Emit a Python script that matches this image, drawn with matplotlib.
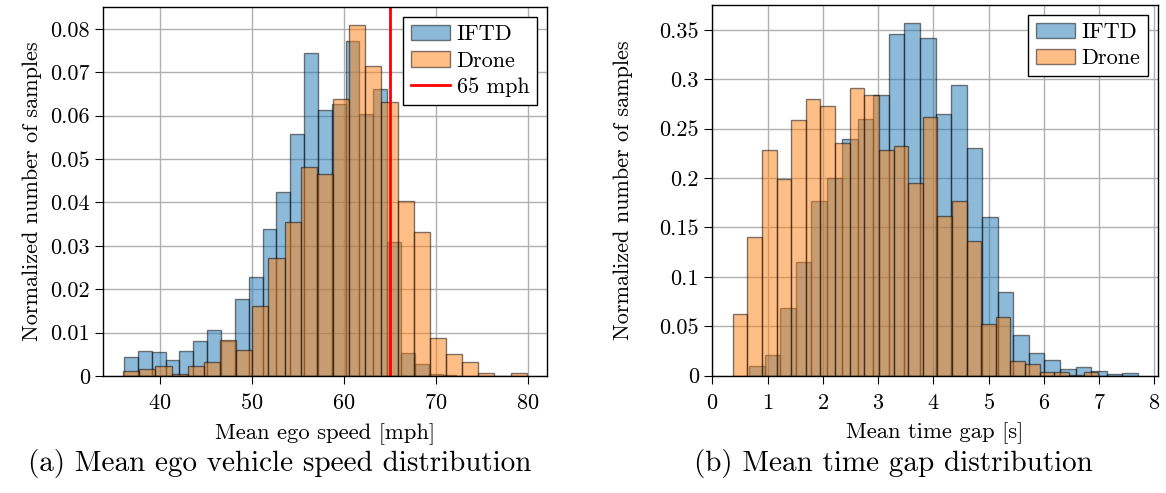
import numpy as np
import matplotlib
matplotlib.use('Agg')
import matplotlib.pyplot as plt
from matplotlib.ticker import FuncFormatter

# mean ego speed [mph], normalized histogram heights
speed_iftd_range = (36.1, 72.2)
speed_iftd = [0.0043, 0.0057, 0.0055, 0.0036, 0.0058, 0.0080, 0.0106, 0.0080,
              0.0178, 0.0228, 0.0339, 0.0424, 0.0558, 0.0745, 0.0612, 0.0628,
              0.0772, 0.0604, 0.0662, 0.0308, 0.0052, 0.0027, 0.0005, 0.0002]
speed_drone_range = (36.0, 79.85)
speed_drone = [0.0011, 0.0016, 0.0022, 0.0005, 0.0022, 0.0033, 0.0083, 0.0061,
               0.0161, 0.0272, 0.0354, 0.0482, 0.0466, 0.0639, 0.0810, 0.0715,
               0.0631, 0.0404, 0.0332, 0.0088, 0.0050, 0.0033, 0.0006, 0.0,
               0.0006]
speed_limit = 65

# mean time gap [s]
gap_iftd_range = (0.664, 7.697)
gap_iftd = [0.0095, 0.0209, 0.0685, 0.1147, 0.1765, 0.2004, 0.2399, 0.2598,
            0.2838, 0.3462, 0.3573, 0.3415, 0.2649, 0.2939, 0.2305, 0.1609,
            0.0847, 0.0409, 0.0227, 0.0156, 0.0063, 0.0085, 0.0048, 0.0015,
            0.0025]
gap_drone_range = (0.368, 6.983)
gap_drone = [0.0628, 0.1404, 0.2287, 0.1994, 0.2585, 0.2804, 0.2730, 0.2358,
             0.2915, 0.2841, 0.2287, 0.2328, 0.1953, 0.2621, 0.1620, 0.1770,
             0.1367, 0.0520, 0.0591, 0.0149, 0.0113, 0.0037, 0.0037, 0.0007,
             0.0037]

plt.rcParams['font.family'] = ['cmr10']
plt.rcParams['mathtext.fontset'] = 'cm'
plt.rcParams['axes.formatter.use_mathtext'] = True


def histo(ax, rng, heights, color, label):
    edges = np.linspace(rng[0], rng[1], len(heights) + 1)
    ax.hist(edges[:-1], bins=edges, weights=heights, color=color, alpha=0.5,
            edgecolor='black', linewidth=1.0, label=label)


def style(ax, ylab_x):
    ax.grid(True, color='#b0b0b0', linewidth=1.0)
    ax.set_axisbelow(True)
    ax.yaxis.set_major_formatter(FuncFormatter(lambda v, p: f'{v:g}'))
    ax.tick_params(labelsize=16, length=6, width=0.8, direction='out')
    ax.tick_params(axis='x', pad=6.5)
    for s in ax.spines.values():
        s.set_linewidth(1.0)
    ax.set_ylabel('Normalized number of samples', fontsize=16)
    ax.yaxis.set_label_coords(ylab_x, 0.5)


def legend(ax):
    ax.legend(loc='upper right', fontsize=16, fancybox=False,
              edgecolor='black', framealpha=1, handlelength=1.75,
              handletextpad=0.3, borderpad=0.35, labelspacing=0.3,
              borderaxespad=0.45)


fig = plt.figure(figsize=(11.66, 4.93), dpi=100)
ax1 = fig.add_axes([0.0883, 0.2373, 0.3808, 0.7485])
ax2 = fig.add_axes([0.6109, 0.2380, 0.3822, 0.7520])

histo(ax1, speed_iftd_range, speed_iftd, 'C0', 'IFTD')
histo(ax1, speed_drone_range, speed_drone, 'C1', 'Drone')
ax1.axvline(speed_limit, color='red', linewidth=2, label='65 mph')
style(ax1, -0.137)
ax1.set_xticks([40, 50, 60, 70, 80])
ax1.set_yticks(np.arange(0, 0.081, 0.01))
ax1.set_xlabel('Mean ego speed [mph]', fontsize=16.3, labelpad=7)
legend(ax1)

histo(ax2, gap_iftd_range, gap_iftd, 'C0', 'IFTD')
histo(ax2, gap_drone_range, gap_drone, 'C1', 'Drone')
style(ax2, -0.178)
ax2.set_xticks(range(0, 9))
ax2.set_yticks(np.arange(0, 0.36, 0.05))
ax2.set_xlabel('Mean time gap [s]', fontsize=16.3, labelpad=7)
legend(ax2)

fig.text(0.240, 0.060, '(a) Mean ego vehicle speed distribution', fontsize=21,
         ha='center', va='center')
fig.text(0.766, 0.060, '(b) Mean time gap distribution', fontsize=21,
         ha='center', va='center')

fig.savefig('out.png', dpi=100)
